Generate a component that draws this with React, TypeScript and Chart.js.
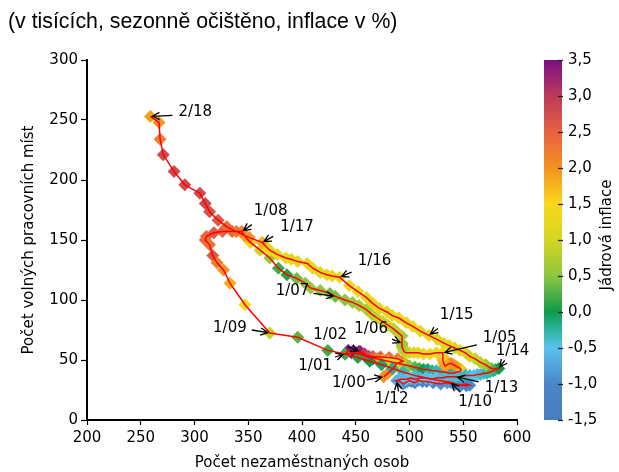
import React, { useEffect, useRef } from 'react';
import { Chart, registerables } from 'chart.js';

Chart.register(...registerables);

// ---------------- DATA ----------------
const START_YEAR = 2000; // first month = 1/2000, monthly until 2/2018

// Počet nezaměstnaných osob (tis.), one row per year
const unemployed: number[] = [
  476, 480, 485, 488, 494, 489, 481, 473, 466, 459, 452, 446, // 2000
  440, 443, 447, 451, 455, 459, 463, 466, 462, 458, 455, 453, // 2001
  454, 458, 462, 466, 470, 475, 480, 485, 490, 495, 500, 505, // 2002
  509, 513, 517, 521, 525, 529, 533, 537, 541, 544, 546, 547, // 2003
  548, 547, 545, 543, 541, 539, 537, 535, 533, 532, 531, 531, // 2004
  531, 525, 519, 513, 508, 504, 500, 497, 495, 494, 493, 493, // 2005
  493, 493, 489, 485, 480, 475, 470, 465, 460, 453, 447, 440, // 2006
  431, 426, 417, 408, 403, 395, 386, 378, 370, 361, 352, 347, // 2007
  344, 335, 326, 318, 311, 310, 314, 317, 321, 327, 333, 347, // 2008
  370, 396, 424, 440, 452, 463, 474, 484, 494, 505, 516, 527, // 2009
  538, 543, 548, 553, 556, 552, 547, 541, 535, 529, 522, 516, // 2010
  512, 508, 505, 502, 500, 498, 496, 494, 493, 491, 490, 489, // 2011
  488, 492, 497, 501, 505, 510, 515, 520, 525, 530, 535, 539, // 2012
  543, 548, 552, 556, 560, 563, 566, 569, 572, 575, 578, 580, // 2013
  583, 576, 571, 566, 561, 556, 552, 547, 542, 537, 532, 526, // 2014
  518, 510, 503, 497, 490, 484, 479, 472, 466, 460, 452, 444, // 2015
  435, 428, 423, 417, 410, 405, 396, 390, 385, 377, 370, 366, // 2016
  363, 351, 339, 330, 322, 314, 310, 305, 291, 281, 271, 268, // 2017
  267, 259, // 2018
];

// Počet volných pracovních míst (tis.)
const vacancies: number[] = [
  36, 39, 43, 47, 49, 51, 52, 52.5, 53, 54, 55, 56, // 2000
  55, 58, 57, 56, 55, 53, 52, 51, 53, 55, 56, 57, // 2001
  57, 55, 53, 52, 51, 50, 49, 48, 47, 46, 45, 44, // 2002
  43, 42, 42, 41, 41, 40, 40, 39, 39, 40, 40, 41, // 2003
  42, 43, 44, 45, 46, 47, 47, 46, 45, 47, 50, 53, // 2004
  56, 56, 55, 55, 56, 56, 56, 56, 57, 59, 61, 62.5, // 2005
  64, 70, 73, 76, 79, 82, 85, 88, 92, 95.5, 98, 100, // 2006
  103, 105.5, 108, 110, 114, 118, 121, 126.5, 135, 141.5, 148, 153, // 2007
  157, 157, 157, 156, 153, 150, 146, 137, 131, 125, 114, 96, // 2008
  72.5, 69, 58, 55, 52, 49, 46, 43, 40, 37, 35, 33, // 2009
  31.5, 30, 29, 28.5, 29, 30, 29, 30, 31, 30, 31, 32, // 2010
  32, 33, 31, 32, 33, 32, 31, 30, 31, 32, 33, 33, // 2011
  33, 34, 34, 35, 34, 35, 35, 34, 35, 35, 36, 36, // 2012
  36, 36, 37, 37, 37, 38, 38, 39, 39, 40, 41, 42, // 2013
  43, 43, 46, 48, 51, 53, 56, 58, 60, 62, 64, 67, // 2014
  70.5, 74, 78, 81, 85, 87, 90, 93, 97, 102, 107, 112, // 2015
  119, 120, 121, 123, 126.5, 130.5, 132, 134, 135, 138, 141.5, 145, // 2016
  148, 152, 157, 161, 166.5, 173.5, 180.5, 189, 196, 207, 221, 234, // 2017
  248, 253, // 2018
];

// Jádrová inflace (%)
const coreInflation: number[] = [
  2.0, 2.0, 2.0, 1.9, 2.0, 2.2, 2.4, 2.6, 2.8, 3.0, 3.2, 3.3, // 2000
  3.4, 3.5, 3.5, 3.5, 3.5, 3.4, 3.5, 3.5, 3.4, 3.4, 3.5, 3.4, // 2001
  3.3, 3.0, 2.8, 2.5, 2.2, 1.8, 1.5, 1.2, 1.0, 0.8, 0.5, 0.3, // 2002
  0.2, 0.0, -0.1, -0.2, -0.3, -0.3, -0.3, -0.2, -0.1, 0.0, 0.2, 0.5, // 2003
  0.8, 1.2, 1.5, 1.8, 2.0, 2.0, 2.1, 2.0, 1.9, 1.9, 1.8, 1.6, // 2004
  1.4, 1.4, 1.3, 1.3, 1.2, 1.2, 1.1, 1.0, 0.9, 0.8, 0.8, 0.7, // 2005
  0.6, 0.7, 0.8, 0.8, 0.9, 0.9, 0.9, 0.8, 0.7, 0.7, 0.6, 0.5, // 2006
  0.4, 0.4, 0.5, 0.6, 0.5, 0.4, 0.1, 0.2, 0.6, 1.0, 1.4, 1.8, // 2007
  2.2, 2.4, 2.5, 2.6, 2.5, 2.4, 2.3, 2.6, 2.2, 2.0, 1.8, 1.4, // 2008
  0.9, 0.3, 0.2, 0.2, 0.1, 0.0, -0.1, -0.2, -0.3, -0.4, -0.5, -0.6, // 2009
  -0.7, -0.8, -0.9, -1.0, -1.0, -1.1, -1.0, -1.0, -0.9, -0.9, -1.0, -1.1, // 2010
  -1.2, -1.2, -1.1, -1.1, -1.0, -1.0, -0.9, -0.9, -0.8, -0.8, -0.7, -0.7, // 2011
  -0.6, -0.6, -0.5, -0.5, -0.6, -0.6, -0.5, -0.5, -0.5, -0.4, -0.4, -0.4, // 2012
  -0.4, -0.4, -0.3, -0.4, -0.5, -0.5, -0.4, -0.4, -0.3, -0.3, -0.2, -0.2, // 2013
  0.0, 0.3, 0.6, 0.8, 0.9, 1.0, 1.0, 1.1, 1.1, 1.2, 1.2, 1.2, // 2014
  1.2, 1.2, 1.3, 1.3, 1.3, 1.3, 1.2, 1.2, 1.3, 1.3, 1.4, 1.4, // 2015
  1.4, 1.3, 1.3, 1.2, 1.3, 1.3, 1.2, 1.2, 1.2, 1.3, 1.3, 1.4, // 2016
  1.8, 2.0, 2.3, 2.4, 2.6, 2.7, 2.8, 2.8, 2.8, 2.8, 2.8, 2.2, // 2017
  2.0, 1.9, // 2018
];

const annotatedMonths = ['1/00', '1/01', '1/02', '1/05', '1/06', '1/07', '1/08', '1/09', '1/10', '1/12', '1/13', '1/14', '1/15', '1/16', '1/17', '2/18'];

const xRange = [200, 600, 50];
const yRange = [0, 300, 50];
const colorRange = [-1.5, 3.5, 0.5];

const colorStops: [number, string][] = [
  [-1.5, '#4a7bbf'], [-1.0, '#4b86c8'], [-0.5, '#5ac2ee'], [-0.25, '#2db4a3'],
  [0.0, '#0d9b4b'], [0.25, '#4db046'], [0.5, '#8dc63f'], [1.0, '#d4d622'],
  [1.5, '#fad81a'], [2.0, '#f39320'], [2.5, '#e86140'], [3.0, '#bb3b59'], [3.5, '#7c0e85'],
];

const TITLE = '(v tisících, sezonně očištěno, inflace v %)';
const X_TITLE = 'Počet nezaměstnaných osob';
const Y_TITLE = 'Počet volných pracovních míst';
const C_TITLE = 'Jádrová inflace';

// ---------------- LAYOUT (label placement, px relative to point) ----------------
type LabelPos = { tx: number; ty: number; align: CanvasTextAlign; ax: number; ay: number };
const labelLayout: Record<string, LabelPos> = {
  '1/00': { tx: -18, ty: 6, align: 'right', ax: -17, ay: 3 },
  '1/01': { tx: -13, ty: 12, align: 'right', ax: -10, ay: 3 },
  '1/02': { tx: -13, ty: -16, align: 'right', ax: -12, ay: -5 },
  '1/05': { tx: 40, ty: -15, align: 'left', ax: 34, ay: -8 },
  '1/06': { tx: -14, ty: -14, align: 'right', ax: -10, ay: -4 },
  '1/07': { tx: -26, ty: -5, align: 'right', ax: -22, ay: -3 },
  '1/08': { tx: 12, ty: -20, align: 'left', ax: 10, ay: -7 },
  '1/09': { tx: -23, ty: -5, align: 'right', ax: -18, ay: -3 },
  '1/10': { tx: 8, ty: 20, align: 'left', ax: 10, ay: 10 },
  '1/12': { tx: -5, ty: 19, align: 'center', ax: 2, ay: 11 },
  '1/13': { tx: 29, ty: 11, align: 'left', ax: 23, ay: 5 },
  '1/14': { tx: -3, ty: -17, align: 'left', ax: 6, ay: -8 },
  '1/15': { tx: 11, ty: -20, align: 'left', ax: 9, ay: -7 },
  '1/16': { tx: 18, ty: -16, align: 'left', ax: 12, ay: -5 },
  '1/17': { tx: 18, ty: -15, align: 'left', ax: 11, ay: -6 },
  '2/18': { tx: 28, ty: -4, align: 'left', ax: 22, ay: -1 },
};

const FONT = "'DejaVu Sans', sans-serif";

function monthIndex(lbl: string): number {
  const [m, yy] = lbl.split('/').map(Number);
  return (2000 + yy - START_YEAR) * 12 + (m - 1);
}

function hexToRgb(h: string): number[] {
  return [parseInt(h.slice(1, 3), 16), parseInt(h.slice(3, 5), 16), parseInt(h.slice(5, 7), 16)];
}

function colorFor(v: number): string {
  if (v <= colorStops[0][0]) return colorStops[0][1];
  for (let k = 1; k < colorStops.length; k++) {
    const [v1, c1] = colorStops[k];
    if (v <= v1) {
      const [v0, c0] = colorStops[k - 1];
      const t = (v - v0) / (v1 - v0);
      const a = hexToRgb(c0), b = hexToRgb(c1);
      const r = a.map((x, i) => Math.round(x + (b[i] - x) * t));
      return `rgb(${r[0]},${r[1]},${r[2]})`;
    }
  }
  return colorStops[colorStops.length - 1][1];
}

const overlayPlugin = {
  id: 'overlay',
  afterDatasetsDraw(chart: any) {
    const { ctx, scales } = chart;
    const xs = scales.x, ys = scales.y;
    ctx.save();
    ctx.font = `15px ${FONT}`;
    ctx.fillStyle = '#000';
    ctx.strokeStyle = '#000';
    ctx.lineWidth = 1.3;
    annotatedMonths.forEach((lbl) => {
      const i = monthIndex(lbl);
      const px = xs.getPixelForValue(unemployed[i]);
      const py = ys.getPixelForValue(vacancies[i]);
      const L = labelLayout[lbl];
      ctx.textAlign = L.align;
      ctx.textBaseline = 'middle';
      ctx.fillText(lbl, px + L.tx, py + L.ty);
      const sx = px + L.ax, sy = py + L.ay;
      const dx = px - sx, dy = py - sy;
      const len = Math.hypot(dx, dy) || 1;
      const ux = dx / len, uy = dy / len;
      const ex = px - ux * 2, ey = py - uy * 2;
      ctx.beginPath();
      ctx.moveTo(sx, sy);
      ctx.lineTo(ex, ey);
      const ang = Math.atan2(uy, ux);
      const hl = 8, hw = 0.47;
      ctx.moveTo(ex - hl * Math.cos(ang - hw), ey - hl * Math.sin(ang - hw));
      ctx.lineTo(ex, ey);
      ctx.lineTo(ex - hl * Math.cos(ang + hw), ey - hl * Math.sin(ang + hw));
      ctx.stroke();
    });
    ctx.restore();
  },
  afterDraw(chart: any) {
    const { ctx, chartArea, scales } = chart;
    const cs = scales.c;
    const yTop = cs.getPixelForValue(colorRange[1]);
    const yBot = cs.getPixelForValue(colorRange[0]);
    const x0 = chartArea.right + 27, x1 = chartArea.right + 45;
    ctx.save();
    const g = ctx.createLinearGradient(0, yBot, 0, yTop);
    colorStops.forEach(([v, c]) => g.addColorStop((v - colorRange[0]) / (colorRange[1] - colorRange[0]), c));
    ctx.fillStyle = g;
    ctx.fillRect(x0, yTop, x1 - x0, yBot - yTop);
    ctx.strokeStyle = '#222';
    ctx.lineWidth = 1.3;
    cs.ticks.forEach((t: any) => {
      const yy = Math.round(cs.getPixelForValue(t.value)) + 0.5;
      ctx.beginPath();
      ctx.moveTo(x1 - 4, yy);
      ctx.lineTo(x1 + 1, yy);
      ctx.stroke();
    });
    ctx.fillStyle = '#000';
    ctx.font = `15px ${FONT}`;
    ctx.textAlign = 'center';
    ctx.textBaseline = 'middle';
    ctx.translate(chart.width - 12, (yTop + yBot) / 2 - 5);
    ctx.rotate(-Math.PI / 2);
    ctx.fillText(C_TITLE, 0, 0);
    ctx.restore();
  },
};

export default function App() {
  const ref = useRef<HTMLCanvasElement | null>(null);
  useEffect(() => {
    if (!ref.current) return;
    const points = unemployed.map((u, i) => ({ x: u, y: vacancies[i] }));
    const chart = new Chart(ref.current, {
      type: 'scatter',
      data: {
        datasets: [
          {
            data: points,
            showLine: true,
            borderColor: '#ff0000',
            borderWidth: 1.5,
            pointRadius: 0,
            tension: 0,
            order: 0,
            xAxisID: 'x',
            yAxisID: 'y',
          } as any,
          {
            data: points,
            showLine: false,
            pointStyle: 'rectRot',
            pointRadius: 6.5,
            pointBackgroundColor: coreInflation.map(colorFor),
            pointBorderWidth: 0,
            order: 1,
            xAxisID: 'x',
            yAxisID: 'y',
          } as any,
        ],
      },
      options: {
        responsive: false,
        animation: false,
        layout: { padding: { top: 60, left: 0, right: 0, bottom: 0 } },
        plugins: { legend: { display: false }, tooltip: { enabled: false }, title: { display: false } },
        font: { family: FONT },
        scales: {
          x: {
            type: 'linear', position: 'bottom', min: xRange[0], max: xRange[1],
            ticks: { stepSize: xRange[2], padding: 4, color: '#000', font: { size: 15, family: FONT } },
            grid: { display: true, drawOnChartArea: false, drawTicks: true, tickLength: 5, tickColor: '#000', tickWidth: 1.2 },
            border: { display: true, color: '#000', width: 2 },
            title: { display: true, text: X_TITLE, color: '#000', font: { size: 15, family: FONT }, padding: { top: 0, bottom: 0 } },
            afterFit: (s: any) => { s.height = 52; },
          },
          y: {
            type: 'linear', position: 'left', min: yRange[0], max: yRange[1],
            ticks: { stepSize: yRange[2], padding: 3, color: '#000', font: { size: 15, family: FONT } },
            grid: { display: true, drawOnChartArea: false, drawTicks: true, tickLength: 6, tickColor: '#000', tickWidth: 1.2 },
            border: { display: true, color: '#000', width: 2 },
            title: { display: true, text: Y_TITLE, color: '#000', font: { size: 15, family: FONT }, padding: { top: 20, bottom: 0 } },
            afterFit: (s: any) => { s.width = 87; },
          },
          c: {
            type: 'linear', position: 'right', min: colorRange[0], max: colorRange[1],
            ticks: {
              stepSize: colorRange[2], padding: 1, color: '#000', font: { size: 15, family: FONT },
              callback: (v: any) => Number(v).toFixed(1).replace('.', ','),
            },
            grid: { display: false, drawTicks: true, tickLength: 50, drawOnChartArea: false },
            border: { display: false },
            afterFit: (s: any) => { s.width = 102; },
          },
        },
      } as any,
      plugins: [overlayPlugin],
    });
    return () => chart.destroy();
  }, []);

  return (
    <div style={{ position: 'fixed', left: 0, top: 0, width: 619, height: 472, background: '#fff' }}>
      <canvas ref={ref} width={619} height={472} style={{ position: 'absolute', left: 0, top: 0, width: 619, height: 472 }} />
      <div style={{ position: 'absolute', left: 8, top: 9, fontFamily: "'Liberation Sans', Arial, sans-serif", fontSize: 21.3, lineHeight: '24px', color: '#000', whiteSpace: 'nowrap' }}>
        {TITLE}
      </div>
    </div>
  );
}
